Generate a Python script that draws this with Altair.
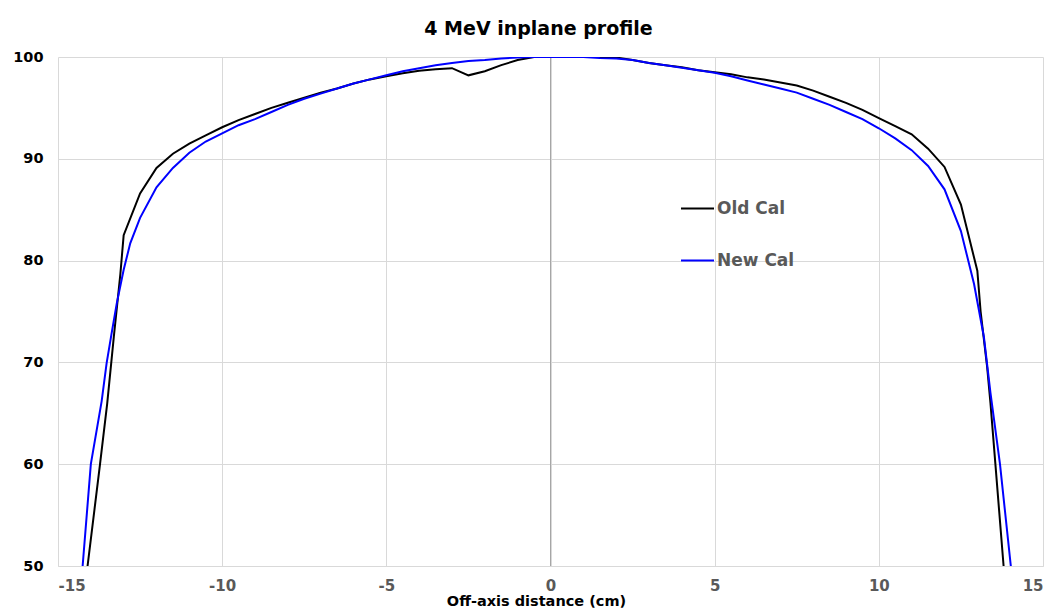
import altair as alt
import pandas as pd

# Old Cal (black) profile
old_x = [-14.1, -13.72, -13.5, -13.3, -13.1, -13.0, -12.5, -12.0, -11.5, -11.0, -10.5, -10.0,
         -9.5, -9.0, -8.5, -8.0, -7.5, -7.0, -6.5, -6.0, -5.5, -5.0, -4.5, -4.0, -3.5, -3.0,
         -2.5, -2.0, -1.5, -1.0, -0.5, 0.0, 0.5, 1.0, 1.5, 2.0, 2.5, 3.0, 3.5, 4.0, 4.5, 5.0,
         5.5, 6.0, 6.5, 7.0, 7.5, 8.0, 8.5, 9.0, 9.5, 10.0, 10.5, 11.0, 11.5, 12.0, 12.5,
         13.0, 13.1, 13.3, 13.4, 13.55, 13.8]
old_y = [50.0, 60.0, 66.0, 72.5, 78.7, 82.5, 86.6, 89.1, 90.5, 91.5, 92.3, 93.1,
         93.8, 94.4, 95.0, 95.5, 96.0, 96.5, 96.9, 97.4, 97.8, 98.1, 98.4, 98.65, 98.8, 98.9,
         98.2, 98.6, 99.2, 99.7, 100.0, 100.0, 100.0, 100.0, 100.0, 99.95, 99.7, 99.4, 99.2, 99.0, 98.7, 98.5,
         98.3, 98.0, 97.8, 97.5, 97.2, 96.7, 96.1, 95.5, 94.8, 94.0, 93.2, 92.4, 91.0, 89.2, 85.5,
         79.0, 75.0, 69.5, 66.0, 60.0, 50.0]

# New Cal (blue) profile
new_x = [-14.25, -14.0, -13.67, -13.52, -13.37, -13.21, -13.0, -12.8, -12.5, -12.0, -11.5, -11.0,
         -10.5, -10.0, -9.5, -9.0, -8.5, -8.0, -7.5, -7.0, -6.5, -6.0, -5.5, -5.0, -4.5, -4.0,
         -3.5, -3.0, -2.5, -2.0, -1.5, -1.0, -0.5, 0.0, 0.5, 1.0, 1.5, 2.0, 2.5, 3.0, 3.5, 4.0,
         4.5, 5.0, 5.5, 6.0, 6.5, 7.0, 7.5, 8.0, 8.5, 9.0, 9.5, 10.0, 10.5, 11.0, 11.5, 12.0,
         12.5, 12.9, 13.2, 13.4, 13.69, 14.02]
new_y = [50.0, 60.0, 66.2, 69.9, 72.8, 75.8, 79.1, 81.7, 84.2, 87.2, 89.1, 90.6,
         91.7, 92.5, 93.3, 93.9, 94.6, 95.3, 95.9, 96.4, 96.9, 97.4, 97.8, 98.2, 98.6, 98.9,
         99.2, 99.4, 99.6, 99.7, 99.85, 99.95, 100.0, 100.0, 100.0, 100.0, 99.9, 99.85, 99.7, 99.4, 99.2, 98.95,
         98.7, 98.45, 98.1, 97.7, 97.3, 96.9, 96.5, 95.9, 95.3, 94.6, 93.9, 93.0, 92.0, 90.85, 89.3, 87.0,
         82.9, 77.7, 72.5, 67.0, 60.0, 50.0]

series_names = ["Old Cal", "New Cal"]
series_colors = ["#000000", "#0000ff"]
x_ticks = [-15, -10, -5, 0, 5, 10, 15]
y_ticks = [50, 60, 70, 80, 90, 100]
zero_line = [0]

df = pd.concat([
    pd.DataFrame({"x": old_x, "y": old_y, "series": series_names[0]}),
    pd.DataFrame({"x": new_x, "y": new_y, "series": series_names[1]}),
])

FONT = "DejaVu Sans"

xscale = alt.Scale(domain=[-15, 15], nice=False, zero=False)
yscale = alt.Scale(domain=[50, 100], nice=False, zero=False)

rule = alt.Chart(pd.DataFrame({"x": zero_line})).mark_rule(
    color="#a6a6a6", strokeWidth=1
).encode(x=alt.X("x:Q", scale=xscale))

lines = alt.Chart(df).mark_line(strokeWidth=2, clip=True).encode(
    x=alt.X("x:Q", scale=xscale,
            axis=alt.Axis(values=x_ticks, title="Off-axis distance (cm)",
                          labelExpr="'' + datum.value",
                          grid=True, gridColor="#d9d9d9", ticks=False,
                          domain=True, domainColor="#d9d9d9",
                          labelColor="#595959", labelFontSize=15, labelFontWeight="bold",
                          labelFont=FONT, labelPadding=12,
                          titleFont=FONT, titleFontSize=14.5, titleFontWeight="bold",
                          titleColor="#000000", titleX=478, titleY=28,
                          titleBaseline="top", titleAlign="center")),
    y=alt.Y("y:Q", scale=yscale,
            axis=alt.Axis(values=y_ticks, title=None, grid=True, gridColor="#d9d9d9",
                          ticks=False, domain=False,
                          labelColor="#000000", labelFontSize=14.5, labelFontWeight="bold",
                          labelFont=FONT, labelPadding=15)),
    color=alt.Color("series:N",
                    scale=alt.Scale(domain=series_names, range=series_colors),
                    sort=series_names,
                    legend=alt.Legend(title=None, orient="none", legendX=622, legendY=134,
                                      symbolType="stroke", symbolSize=1089,
                                      symbolStrokeWidth=2, rowPadding=26,
                                      labelFont=FONT, labelFontSize=17,
                                      labelFontWeight="bold", labelColor="#595959",
                                      labelOffset=2, padding=0)),
    order=alt.Order("x:Q"),
)

chart = alt.layer(rule, lines).properties(
    width=985,
    height=509,
    title=alt.TitleParams("4 MeV inplane profile", font=FONT, fontSize=19,
                          fontWeight="bold", color="#000000", anchor="middle",
                          offset=10, dx=-12),
    autosize=alt.AutoSizeParams(type="none"),
    padding={"left": 50, "top": 49, "right": 2, "bottom": 42},
    background="#ffffff",
).configure_view(stroke=None)

chart.save("out.html", embed_options={"renderer": "svg", "actions": False})
